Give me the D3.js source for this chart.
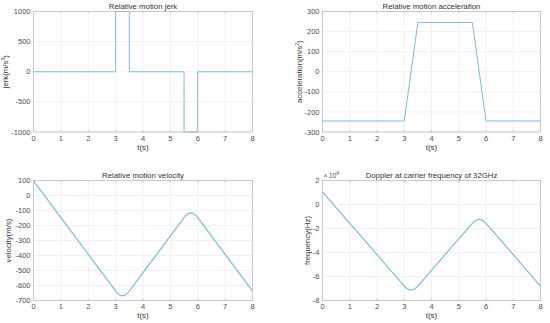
<!DOCTYPE html>
<html>
<head>
<meta charset="utf-8">
<script src="https://cdn.jsdelivr.net/npm/d3@7"></script>
<style>
  body { margin: 0; background: #fff; }
  text { font-family: "Liberation Sans", Arial, sans-serif; }
</style>
</head>
<body>
<script>
// time axis shared by all four panels
var xTicks = [0, 1, 2, 3, 4, 5, 6, 7, 8];

// jerk (m/s^3), piecewise constant
var jerkT = [0, 3, 3, 3.5, 3.5, 5.5, 5.5, 6, 6, 8];
var jerkV = [0, 0, 1000, 1000, 0, 0, -1000, -1000, 0, 0];
var jerkTicks = [-1000, -500, 0, 500, 1000];

// acceleration (m/s^2)
var accT = [0, 3, 3.5, 5.5, 6, 8];
var accV = [-245, -245, 245, 245, -245, -245];
var accTicks = [-300, -200, -100, 0, 100, 200, 300];

// velocity (m/s)
var velT = [0, 0.5, 1, 1.5, 2, 2.5, 3, 3.05, 3.1, 3.15, 3.2, 3.25, 3.3, 3.35, 3.4, 3.45, 3.5,
            4, 4.5, 5, 5.5, 5.55, 5.6, 5.65, 5.7, 5.75, 5.8, 5.85, 5.9, 5.95, 6, 6.5, 7, 7.5, 8];
var velV = [98, -24, -147, -269, -392, -514, -637, -648, -656, -663, -667, -668, -667, -663, -656, -648, -637,
            -514, -392, -269, -147, -136, -128, -121, -117, -116, -117, -121, -128, -136, -147, -269, -392, -514, -637];
var velTicks = [-700, -600, -500, -400, -300, -200, -100, 0, 100];

// Doppler shift (Hz) at 32 GHz
var dopT = velT;
var dopV = [10450, -2560, -15680, -28690, -41810, -54830, -67950, -69120, -69970, -70720, -71150, -71250, -71150, -70720, -69970, -69120, -67950,
            -54830, -41810, -28690, -15680, -14510, -13650, -12910, -12480, -12370, -12480, -12910, -13650, -14510, -15680, -28690, -41810, -54830, -67950];
var dopTicks = [-8, -6, -4, -2, 0, 2];

var W = 550, H = 323;
var svg = d3.select("body").append("svg")
  .attr("width", W).attr("height", H);

var lineColor = "#7dbbdb";
var axisColor = "#b8b8b8";
var textColor = "#4d4d4d";

function panel(opt) {
  var x = d3.scaleLinear().domain([0, 8]).range([opt.left, opt.right]);
  var y = d3.scaleLinear().domain(opt.yDomain).range([opt.bottom, opt.top]);
  var g = svg.append("g");

  // grid
  g.selectAll(".gx").data(xTicks).enter().append("line")
    .attr("x1", function(d) { return x(d); }).attr("x2", function(d) { return x(d); })
    .attr("y1", opt.top).attr("y2", opt.bottom)
    .attr("stroke", "#ebebeb").attr("stroke-width", 0.7);
  g.selectAll(".gy").data(opt.yTicks).enter().append("line")
    .attr("y1", function(d) { return y(d); }).attr("y2", function(d) { return y(d); })
    .attr("x1", opt.left).attr("x2", opt.right)
    .attr("stroke", "#ebebeb").attr("stroke-width", 0.7);

  // data
  var pts = opt.t.map(function(t, i) { return [t, opt.v[i] / (opt.div || 1)]; });
  g.append("path")
    .attr("d", d3.line().x(function(d) { return x(d[0]); }).y(function(d) { return y(d[1]); })(pts))
    .attr("fill", "none").attr("stroke", lineColor).attr("stroke-width", opt.lw || 1);

  // box
  g.append("rect")
    .attr("x", opt.left).attr("y", opt.top)
    .attr("width", opt.right - opt.left).attr("height", opt.bottom - opt.top)
    .attr("fill", "none").attr("stroke", axisColor).attr("stroke-width", 0.7);

  // small inward ticks
  xTicks.forEach(function(d) {
    g.append("line").attr("x1", x(d)).attr("x2", x(d)).attr("y1", opt.bottom).attr("y2", opt.bottom - 2)
      .attr("stroke", axisColor).attr("stroke-width", 0.7);
    g.append("line").attr("x1", x(d)).attr("x2", x(d)).attr("y1", opt.top).attr("y2", opt.top + 2)
      .attr("stroke", axisColor).attr("stroke-width", 0.7);
  });

  g.selectAll(".xl").data(xTicks).enter().append("text")
    .attr("x", function(d) { return x(d); }).attr("y", opt.bottom + 8.5)
    .attr("text-anchor", "middle").attr("font-size", 7.5).attr("fill", textColor)
    .text(function(d) { return d; });
  g.selectAll(".yl").data(opt.yTicks).enter().append("text")
    .attr("x", opt.left - 3).attr("y", function(d) { return y(d) + 2.6; })
    .attr("text-anchor", "end").attr("font-size", 7.5).attr("fill", textColor)
    .text(function(d) { return d; });

  g.append("text")
    .attr("x", (opt.left + opt.right) / 2).attr("y", opt.top - 3)
    .attr("text-anchor", "middle").attr("font-size", 7.8).attr("fill", "#333")
    .text(opt.title);
  g.append("text")
    .attr("x", (opt.left + opt.right) / 2).attr("y", opt.bottom + 17.5)
    .attr("text-anchor", "middle").attr("font-size", 7.8).attr("fill", "#333")
    .text("t(s)");

  var yl = g.append("text")
    .attr("transform", "translate(" + (opt.left + opt.ylabelDx) + "," + ((opt.top + opt.bottom) / 2) + ") rotate(-90)")
    .attr("text-anchor", "middle").attr("font-size", 7.8).attr("fill", "#333");
  yl.append("tspan").text(opt.ylabel[0]);
  if (opt.ylabel[1]) {
    yl.append("tspan").attr("dy", -3).attr("font-size", 5).text(opt.ylabel[1]);
    yl.append("tspan").attr("dy", 3).text(opt.ylabel[2]);
  }

  if (opt.exponent) {
    var ex = g.append("text").attr("x", opt.left + 1).attr("y", opt.top - 3)
      .attr("font-size", 6.5).attr("fill", textColor);
    ex.append("tspan").text("\u00d7 10");
    ex.append("tspan").attr("dy", -3).attr("font-size", 5).text(opt.exponent);
  }
}

panel({ left: 33.5, right: 252.5, top: 11.5, bottom: 132,
  yDomain: [-1000, 1000], yTicks: jerkTicks, t: jerkT, v: jerkV,
  title: "Relative motion jerk", ylabel: ["jerk(m/s", "3", ")"], ylabelDx: -26 });

panel({ left: 322.5, right: 540.5, top: 11.5, bottom: 132,
  yDomain: [-300, 300], yTicks: accTicks, t: accT, v: accV,
  title: "Relative motion acceleration", ylabel: ["acceleration(m/s", "2", ")"], ylabelDx: -21 });

panel({ left: 33.5, right: 252.5, top: 180.5, bottom: 300.5,
  yDomain: [-700, 100], yTicks: velTicks, t: velT, v: velV, lw: 1.2,
  title: "Relative motion velocity", ylabel: ["velocity(m/s)"], ylabelDx: -23 });

panel({ left: 322.5, right: 540.5, top: 180.5, bottom: 300.5,
  yDomain: [-8, 2], yTicks: dopTicks, t: dopT, v: dopV, div: 1e4, lw: 1.2,
  title: "Doppler at carrier frequency of 32GHz", ylabel: ["frequency(Hz)"], ylabelDx: -13,
  exponent: "4" });
</script>
</body>
</html>
